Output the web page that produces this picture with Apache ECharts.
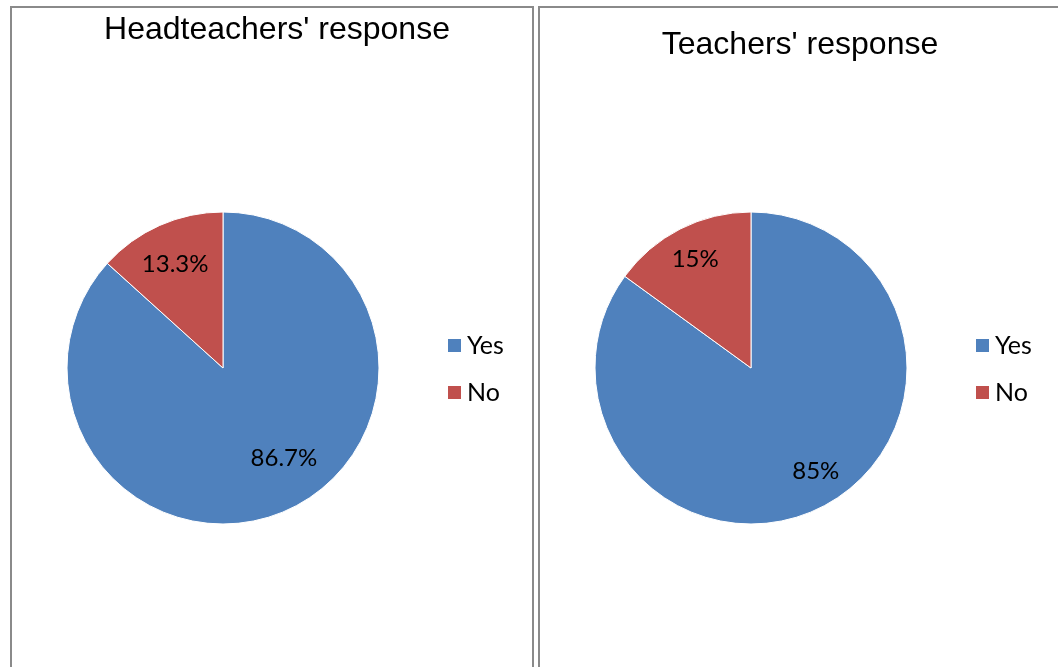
<!DOCTYPE html>
<html>
<head>
<meta charset="utf-8">
<script src="https://cdn.jsdelivr.net/npm/echarts@6/dist/echarts.min.js"></script>
<style>
  html, body { margin: 0; padding: 0; background: #fff; }
  #chart { width: 1058px; height: 667px; }
</style>
</head>
<body>
<div id="chart"></div>
<script>
// data
const categories = ['Yes', 'No']
const headteachers = [86.7, 13.3]
const teachers = [85, 15]
const titles = ["Headteachers' response", "Teachers' response"]

const colors = ['#4f81bd', '#c0504d']
const labelFont = 'Lato, "Open Sans", sans-serif'

// nudges for the labels, so they sit like the original (excel best fit)
const leftOffsets = [[28, 16], [-15, -30]]
const rightOffsets = [[28, 31], [-19, -37]]

function pieData (values, offsets) {
  return categories.map((name, i) => ({
    name: name,
    value: values[i],
    label: { offset: offsets[i] }
  }))
}

function pieSeries (values, offsets, cx) {
  return {
    type: 'pie',
    center: [cx, 368],
    radius: 156,
    startAngle: 90,
    clockwise: true,
    data: pieData(values, offsets),
    itemStyle: {
      borderColor: '#fff',
      borderWidth: 1
    },
    label: {
      show: true,
      position: 'inside',
      color: '#000',
      fontFamily: labelFont,
      fontSize: 24,
      formatter: (p) => p.value + '%'
    },
    labelLine: { show: false },
    emphasis: { disabled: true }
  }
}

function legend (left) {
  return {
    orient: 'vertical',
    left: left,
    top: 328,
    itemWidth: 15,
    itemHeight: 15,
    itemGap: 22,
    icon: 'rect',
    data: categories,
    textStyle: {
      color: '#000',
      fontFamily: labelFont,
      fontSize: 25
    }
  }
}

let chart = echarts.init(document.getElementById('chart'))
let option = {
  color: colors,
  animation: false,
  title: [{
    text: titles[0],
    left: 272,
    top: 9,
    textAlign: 'center',
    textStyle: {
      color: '#000',
      fontFamily: '"Liberation Sans", Arial, sans-serif',
      fontWeight: 'normal',
      fontSize: 32
    }
  }, {
    text: titles[1],
    left: 795,
    top: 24,
    textAlign: 'center',
    textStyle: {
      color: '#000',
      fontFamily: '"Liberation Sans", Arial, sans-serif',
      fontWeight: 'normal',
      fontSize: 32
    }
  }],
  legend: [legend(441), legend(969)],
  graphic: [{
    type: 'polyline',
    shape: { points: [[11, 667], [11, 7], [533, 7], [533, 667]] },
    style: { stroke: '#8a8a8a', lineWidth: 2, fill: null },
    silent: true
  }, {
    type: 'polyline',
    shape: { points: [[539, 667], [539, 7], [1058, 7]] },
    style: { stroke: '#8a8a8a', lineWidth: 2, fill: null },
    silent: true
  }],
  series: [
    pieSeries(headteachers, leftOffsets, 223),
    pieSeries(teachers, rightOffsets, 751)
  ]
}
chart.setOption(option)
</script>
</body>
</html>
